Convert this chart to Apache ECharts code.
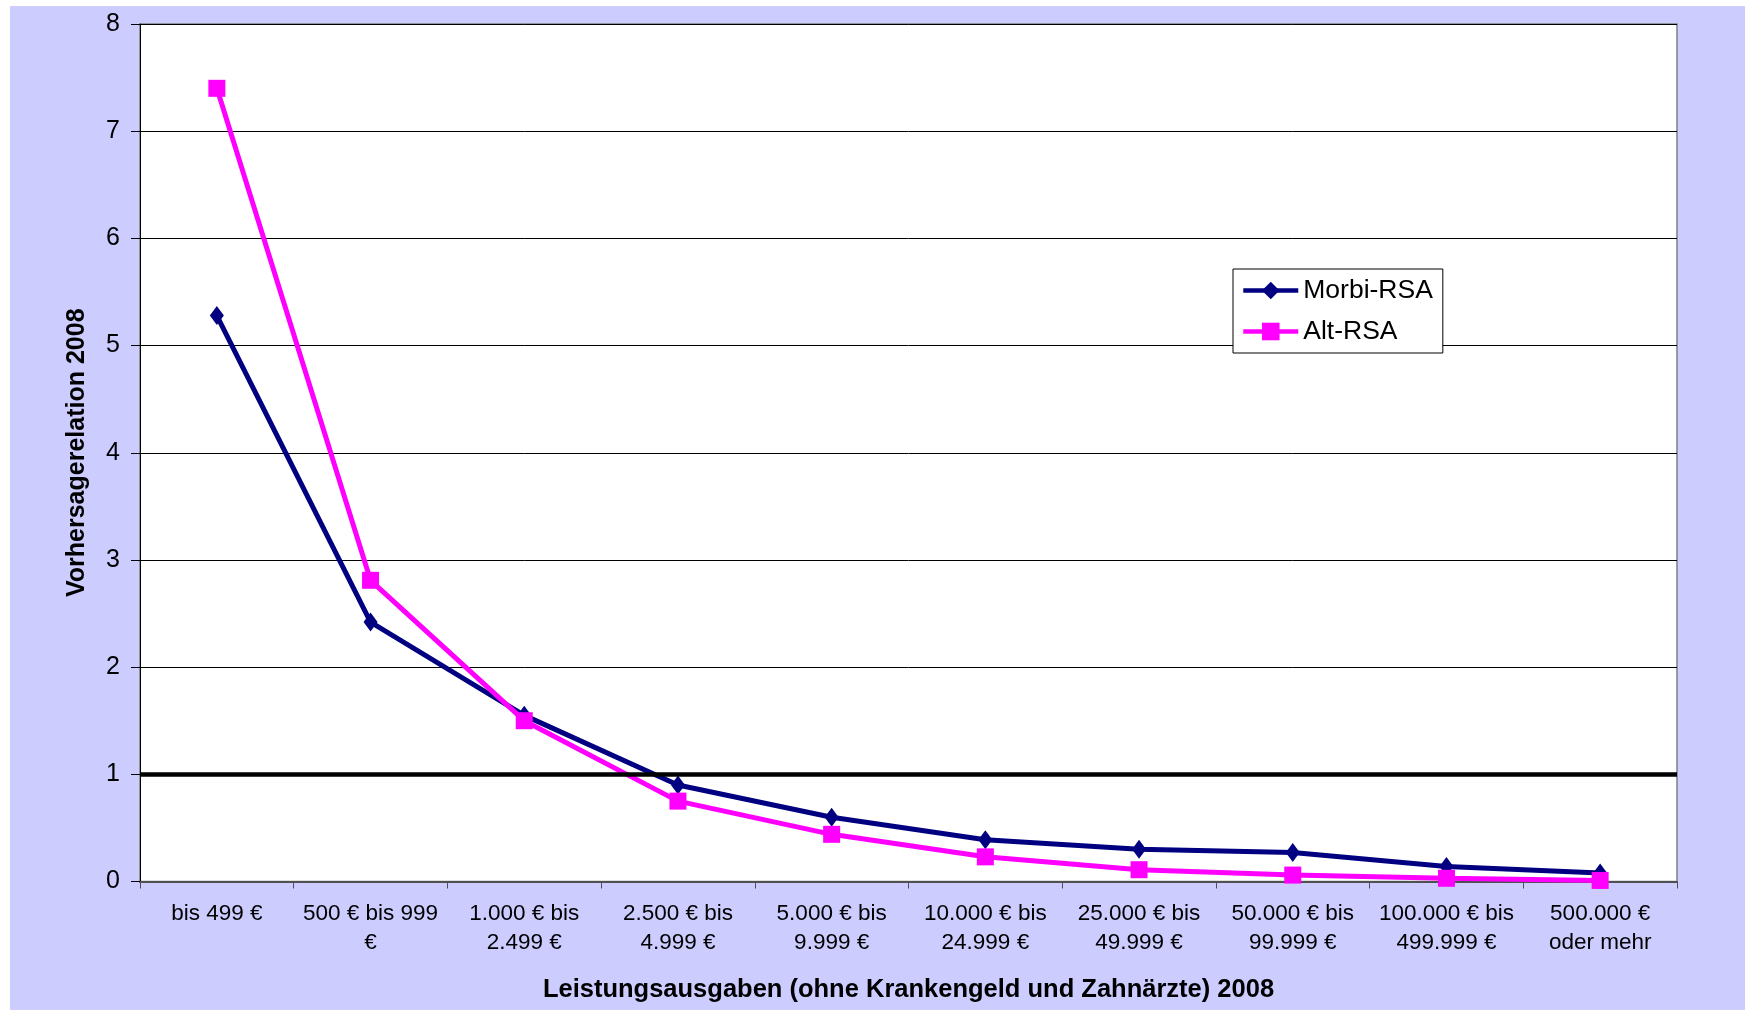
<!DOCTYPE html>
<html><head><meta charset="utf-8">
<script src="https://cdn.jsdelivr.net/npm/echarts@6/dist/echarts.min.js"></script>
<style>
html,body{margin:0;padding:0;background:#fff;width:1745px;height:1010px;overflow:hidden;}
#c{position:absolute;left:10px;top:6px;width:1735px;height:1004px;}
</style></head>
<body><div id="c"></div>
<script>
const categories = ["bis 499 €","500 € bis 999\n€","1.000 € bis\n2.499 €","2.500 € bis\n4.999 €","5.000 € bis\n9.999 €","10.000 € bis\n24.999 €","25.000 € bis\n49.999 €","50.000 € bis\n99.999 €","100.000 € bis\n499.999 €","500.000 €\noder mehr"];
const morbiRSA = [5.28, 2.42, 1.55, 0.90, 0.60, 0.39, 0.30, 0.27, 0.14, 0.08];
const altRSA = [7.40, 2.81, 1.50, 0.75, 0.44, 0.23, 0.11, 0.06, 0.03, 0.01];
const yTicks = [0,1,2,3,4,5,6,7,8];

const FONT = 'Arial, "Liberation Sans", sans-serif';
const chart = echarts.init(document.getElementById('c'));
chart.setOption({
  backgroundColor: '#CCCCFF',
  animation: false,
  grid: {left: 130, top: 18, width: 1537, height: 857.5, show: true, backgroundColor: '#ffffff', borderColor: '#808080', borderWidth: 1.5},
  legend: {
    orient: 'vertical', left: 1223, top: 263,
    backgroundColor: '#ffffff', borderColor: '#000000', borderWidth: 1,
    padding: [8, 10, 8, 8], itemGap: 14, itemWidth: 55, itemHeight: 22,
    lineStyle: {width: 4.5},
    textStyle: {fontFamily: FONT, fontSize: 26.5, color: '#000'},
    data: ['Morbi-RSA', 'Alt-RSA']
  },
  xAxis: {
    type: 'category', data: categories, boundaryGap: true,
    name: 'Leistungsausgaben (ohne Krankengeld und Zahnärzte) 2008',
    nameLocation: 'middle', nameGap: 95,
    nameTextStyle: {fontFamily: FONT, fontWeight: 'bold', fontSize: 25.5, color: '#000'},
    axisLine: {lineStyle: {color: '#505050', width: 2}},
    axisTick: {show: true, alignWithLabel: false, length: 7, lineStyle: {color: '#505050', width: 1}},
    axisLabel: {interval: 0, margin: 18, fontFamily: FONT, fontSize: 22.5, color: '#000', lineHeight: 29}
  },
  yAxis: {
    type: 'value', min: 0, max: 8, interval: 1,
    name: 'Vorhersagerelation 2008', nameLocation: 'middle', nameGap: 50, nameRotate: 90,
    nameTextStyle: {fontFamily: FONT, fontWeight: 'bold', fontSize: 25, color: '#000'},
    axisLine: {show: true, lineStyle: {color: '#000', width: 1}},
    axisTick: {show: true, length: 9, lineStyle: {color: '#000'}},
    axisLabel: {margin: 20, fontFamily: FONT, fontSize: 25, color: '#000', formatter: v => yTicks.includes(v) ? String(v) : ''},
    splitLine: {show: true, lineStyle: {color: '#000', width: 1}}
  },
  series: [
    {
      name: 'Morbi-RSA', type: 'line', data: morbiRSA,
      symbol: 'diamond', symbolSize: [14, 19],
      lineStyle: {color: '#000080', width: 5},
      itemStyle: {color: '#000080'},
      markLine: {silent: true, symbol: 'none', label: {show: false},
        lineStyle: {color: '#000', width: 4.5, type: 'solid'}, data: [{yAxis: 1}]},
      z: 3
    },
    {
      name: 'Alt-RSA', type: 'line', data: altRSA,
      symbol: 'rect', symbolSize: 17,
      lineStyle: {color: '#FF00FF', width: 5},
      itemStyle: {color: '#FF00FF'},
      z: 4
    }
  ]
});
</script></body></html>
